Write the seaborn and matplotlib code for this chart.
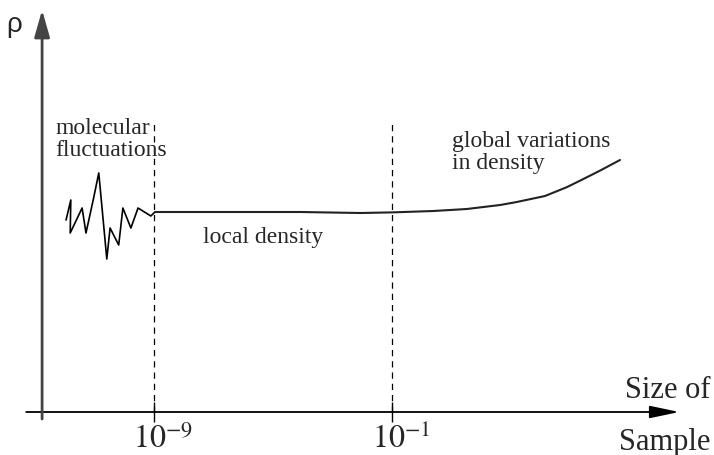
import matplotlib
matplotlib.use("Agg")
import matplotlib.pyplot as plt
from matplotlib.transforms import ScaledTranslation
import seaborn as sns

# x in decades of sample size (log10), y in relative density
fluct_x = [-11.96, -11.80, -11.82, -11.42, -11.29, -11.04, -10.86, -10.59,
           -10.48, -10.19, -10.05, -9.78, -9.54, -9.11, -8.97]
fluct_y = [0.96, 1.06, 0.895, 1.02, 0.895, 1.065, 1.195, 0.765,
           0.92, 0.835, 1.02, 0.92, 1.02, 0.98, 1.0]

smooth_x = [-8.97, -6.5, -4.09, -2.08, -1.01, 0.39, 1.51, 2.63, 3.19,
            4.14, 4.87, 5.43, 5.99, 6.66]
smooth_y = [1.0, 1.0, 1.0, 0.995, 0.998, 1.005, 1.015, 1.035, 1.05,
            1.08, 1.124, 1.165, 1.207, 1.26]

boundaries = [-9, -1]
tick_labels = [r"$10^{-9}$", r"$10^{-1}$"]

sns.set_theme(style="white")
plt.rcParams["font.family"] = ["Liberation Serif", "DejaVu Serif"]
plt.rcParams["mathtext.fontset"] = "stix"

fig = plt.figure(figsize=(7.14, 4.56), dpi=100)
ax = fig.add_axes([0, 0, 1, 1])
ax.set_xlim(-14.18, 9.82)
ax.set_ylim(-0.215, 2.065)

# axes with arrow heads
x_start, x_end = -13.3, 8.65
y_start, y_end = -0.035, 2.01
y_axis_x = -12.765
ax.annotate("", xy=(x_end, 0), xytext=(x_start, 0),
            arrowprops=dict(arrowstyle="-|>,head_length=1.8,head_width=0.38",
                            mutation_scale=10, lw=1.3, color="black",
                            shrinkA=0, shrinkB=0))
ax.annotate("", xy=(y_axis_x, y_end), xytext=(y_axis_x, y_start),
            arrowprops=dict(arrowstyle="-|>,head_length=1.65,head_width=0.47",
                            mutation_scale=10, lw=2.0, color="#444444",
                            shrinkA=0, shrinkB=0))

for s in ax.spines.values():
    s.set_visible(False)
ax.spines["bottom"].set_position(("data", 0))
ax.set_yticks([])
ax.set_xticks(boundaries, tick_labels)
ax.tick_params(axis="x", direction="inout", length=14, width=1.0,
               color="black", pad=1, labelsize=23, bottom=True)
# keep the "10" under the tick, superscript hanging to the right
shift = ScaledTranslation(0.09, 0, fig.dpi_scale_trans)
for lbl in ax.get_xticklabels():
    lbl.set_transform(lbl.get_transform() + shift)

# region boundaries
ax.vlines(boundaries, 0, 1.44, colors="black", lw=0.9, linestyles=(0, (5, 4)))

sns.lineplot(x=fluct_x, y=fluct_y, sort=False, estimator=None,
             color="black", lw=1.2, ax=ax)
sns.lineplot(x=smooth_x, y=smooth_y, sort=False, estimator=None,
             color="#222222", lw=1.5, ax=ax)

ax.text(-13.96, 1.94, "ρ", family=["Liberation Sans", "DejaVu Sans"],
        fontsize=20, ha="left", va="center")
ax.text(-12.33, 1.475, "molecular\nfluctuations", fontsize=17,
        ha="left", va="top", linespacing=1.05)
ax.text(-7.35, 0.85, "local density", fontsize=17, ha="left", va="baseline")
ax.text(1.02, 1.41, "global variations\nin density", fontsize=17,
        ha="left", va="top", linespacing=1.05)
ax.text(9.69, 0.185, "Size of", fontsize=22, ha="right", va="top")
ax.text(9.69, -0.075, "Sample", fontsize=22, ha="right", va="top")

fig.savefig("out.png", dpi=100)
